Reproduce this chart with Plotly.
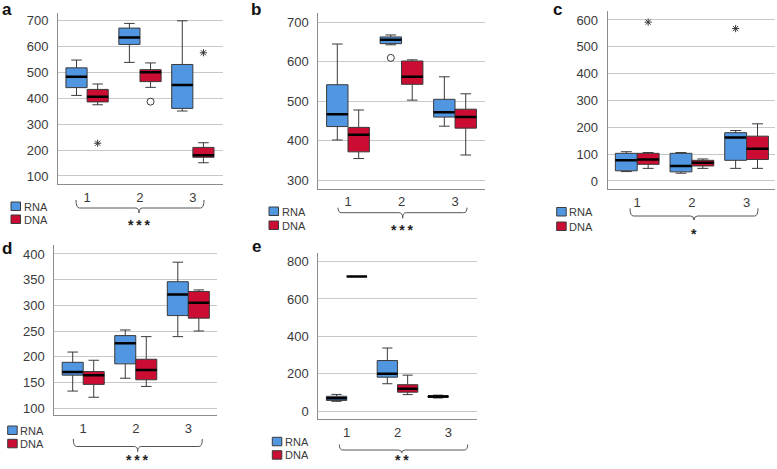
import plotly.graph_objects as go

W, H = 777, 469

CATEGORIES = ["1", "2", "3"]
SERIES = ["RNA", "DNA"]

# five-number summaries per group: [lower whisker, Q1, median, Q3, upper whisker]
A_RNA = [[410, 440, 482, 516, 546], [537, 606, 633, 669, 687], [350, 360, 450, 529, 697]]
A_DNA = [[374, 385, 405, 433, 454], [441, 463, 499, 509, 535], [151, 172, 180, 210, 228]]
A_OUTLIERS = [("DNA", 0, 226, "star"), ("DNA", 1, 386, "circle"), ("DNA", 2, 574, "star")]
A_TICKS = [100, 200, 300, 400, 500, 600, 700]
A_SIG = "***"

B_RNA = [[402, 436, 467, 542, 645], [643, 646, 656, 663, 668], [437, 460, 472, 505, 562]]
B_DNA = [[355, 372, 415, 434, 478], [503, 543, 562, 602, 605], [364, 432, 460, 480, 519]]
B_OUTLIERS = [("RNA", 1, 610, "circle")]
B_TICKS = [300, 400, 500, 600, 700]
B_SIG = "***"

C_RNA = [[35, 38, 77, 103, 109], [29, 34, 56, 103, 106], [47, 77, 162, 180, 188]]
C_DNA = [[47, 62, 80, 103, 106], [47, 56, 68, 77, 82], [47, 80, 120, 167, 213]]
C_OUTLIERS = [("DNA", 0, 592, "star"), ("RNA", 2, 568, "star")]
C_TICKS = [0, 100, 200, 300, 400, 500, 600]
C_SIG = "*"

D_RNA = [[133, 164, 170, 189, 209], [158, 186, 226, 241, 252], [239, 280, 321, 346, 384]]
D_DNA = [[121, 146, 164, 171, 193], [142, 155, 174, 195, 239], [250, 275, 305, 327, 330]]
D_OUTLIERS = []
D_TICKS = [100, 150, 200, 250, 300, 350, 400]
D_SIG = "***"

E_RNA = [[53, 58, 69, 80, 90], [147, 182, 200, 271, 338], [71, 74, 79, 83, 86]]
E_DNA = [[720, 720, 720, 720, 720], [89, 102, 120, 142, 193], None]
E_OUTLIERS = []
E_TICKS = [0, 200, 400, 600, 800]
E_SIG = "**"

COLORS = {"RNA": "#5196E0", "DNA": "#CB0C33"}
OFFSETS = {"RNA": -0.2, "DNA": 0.2}
BOX_W = 0.4
FONT = "Liberation Sans, Arial, sans-serif"
TXT = "#3a3a3a"
SIG_SIZE = 14

# layout (pixels)
PANELS = [
    dict(letter="a", rna=A_RNA, dna=A_DNA, out=A_OUTLIERS, ticks=A_TICKS, sig=A_SIG,
         dx=(58, 223), dy=(13, 184), yr=(69.2, 727), xr=(-0.55, 2.57),
         lt=(0, 9), leg=(11, 202, 215), brace=(76, 204, 139, 200, 208, 213), sigy=221),
    dict(letter="b", rna=B_RNA, dna=B_DNA, out=B_OUTLIERS, ticks=B_TICKS, sig=B_SIG,
         dx=(318.3, 485), dy=(13.3, 188.7), yr=(278.7, 722.8), xr=(-0.555, 2.56),
         lt=(249, 9), leg=(269, 207, 221), brace=(338, 467, 402.7, 207.7, 212.7, 218.3), sigy=225.7),
    dict(letter="c", rna=C_RNA, dna=C_DNA, out=C_OUTLIERS, ticks=C_TICKS, sig=C_SIG,
         dx=(607.7, 775), dy=(11, 189.3), yr=(-31, 633.5), xr=(-0.54, 2.52),
         lt=(551, 9), leg=(556.7, 207.5, 222), brace=(630, 758, 694, 208.3, 216, 220), sigy=230),
    dict(letter="d", rna=D_RNA, dna=D_DNA, out=D_OUTLIERS, ticks=D_TICKS, sig=D_SIG,
         dx=(54.3, 216.7), dy=(245, 415.3), yr=(85.8, 417.5), xr=(-0.55, 2.54),
         lt=(0, 248), leg=(7.7, 426, 439.3), brace=(73.3, 202.3, 137.7, 439, 446.5, 451.5), sigy=461.7),
    dict(letter="e", rna=E_RNA, dna=E_DNA, out=E_OUTLIERS, ticks=E_TICKS, sig=E_SIG,
         dx=(318.3, 476.7), dy=(253.3, 419.3), yr=(-43, 844), xr=(-0.56, 2.56),
         lt=(250, 246), leg=(272.3, 437.3, 450.7), brace=(339.3, 467.7, 401.7, 444.5, 450, 453), sigy=465),
]


def px(x):
    return x / W


def py(y):
    return 1 - y / H


fig = go.Figure()
shapes = []
annotations = []
layout = {}

for i, p in enumerate(PANELS, start=1):
    xa = "x" if i == 1 else f"x{i}"
    ya = "y" if i == 1 else f"y{i}"
    xkey = "xaxis" if i == 1 else f"xaxis{i}"
    ykey = "yaxis" if i == 1 else f"yaxis{i}"

    layout[xkey] = dict(
        domain=[px(p["dx"][0]), px(p["dx"][1])], anchor=ya, range=list(p["xr"]),
        tickmode="array", tickvals=list(range(len(CATEGORIES))), ticktext=CATEGORIES,
        showgrid=False, zeroline=False, showline=True, linecolor="#8c8c8c", linewidth=1,
        ticks="", ticklabelstandoff=1, tickfont=dict(family=FONT, size=13, color=TXT),
        fixedrange=True,
    )
    layout[ykey] = dict(
        domain=[py(p["dy"][1]), py(p["dy"][0])], anchor=xa, range=list(p["yr"]),
        tickmode="array", tickvals=p["ticks"], ticktext=[str(t) for t in p["ticks"]],
        showgrid=True, gridcolor="#c8c8c8", gridwidth=1, zeroline=False,
        showline=True, linecolor="#8c8c8c", linewidth=1,
        ticks="", ticklabelstandoff=6, tickfont=dict(family=FONT, size=13, color=TXT),
        fixedrange=True,
    )

    for s, stats in (("RNA", p["rna"]), ("DNA", p["dna"])):
        xs, lo, q1, med, q3, hi = [], [], [], [], [], []
        for g, st in enumerate(stats):
            if st is None:
                continue
            xs.append(g + OFFSETS[s])
            lo.append(st[0]); q1.append(st[1]); med.append(st[2]); q3.append(st[3]); hi.append(st[4])
        fig.add_trace(go.Box(
            x=xs, q1=q1, median=med, q3=q3, lowerfence=lo, upperfence=hi,
            width=BOX_W, fillcolor=COLORS[s], line=dict(color="#3a3a3a", width=1),
            whiskerwidth=0.5, boxpoints=False, name=s, showlegend=False,
            xaxis=xa, yaxis=ya, hoverinfo="skip",
        ))
        # thick black median line
        fig.add_trace(go.Box(
            x=xs, q1=med, median=med, q3=med, lowerfence=med, upperfence=med,
            width=BOX_W, fillcolor="rgba(0,0,0,0)", line=dict(color="#000000", width=2.5),
            whiskerwidth=0, boxpoints=False, showlegend=False,
            xaxis=xa, yaxis=ya, hoverinfo="skip",
        ))

    for kind, sym, size in (("star", "asterisk-open", 6), ("circle", "circle-open", 7)):
        pts = [o for o in p["out"] if o[3] == kind]
        if pts:
            fig.add_trace(go.Scatter(
                x=[o[1] + OFFSETS[o[0]] for o in pts], y=[o[2] for o in pts],
                mode="markers", marker=dict(symbol=sym, size=size, color="#3a3a3a",
                                            line=dict(color="#3a3a3a", width=1)),
                showlegend=False, xaxis=xa, yaxis=ya, hoverinfo="skip",
            ))

    # panel letter
    annotations.append(dict(
        text=f"<b>{p['letter']}</b>", x=px(p["lt"][0]), y=py(p["lt"][1]),
        xref="paper", yref="paper", xanchor="left", yanchor="middle", showarrow=False,
        font=dict(family=FONT, size=17, color="#111111"),
    ))

    # legend
    lx, ry, dyy = p["leg"]
    for s, y0 in (("RNA", ry), ("DNA", dyy)):
        shapes.append(dict(type="rect", xref="paper", yref="paper",
                           x0=px(lx), x1=px(lx + 9.5), y0=py(y0 + 8.5), y1=py(y0),
                           fillcolor=COLORS[s], line=dict(color="#3a3a3a", width=1)))
        annotations.append(dict(
            text=s, x=px(lx + 10.5), y=py(y0 + 4.5), xref="paper", yref="paper",
            xanchor="left", yanchor="middle", showarrow=False,
            font=dict(family=FONT, size=11, color=TXT),
        ))

    # brace
    x0, x1, xc, yt, ym, ytip = p["brace"]
    r = 3.5
    path = (f"M {px(x0)},{py(yt)} Q {px(x0)},{py(ym)} {px(x0 + r)},{py(ym)} "
            f"L {px(xc - r)},{py(ym)} Q {px(xc)},{py(ym)} {px(xc)},{py(ytip)} "
            f"Q {px(xc)},{py(ym)} {px(xc + r)},{py(ym)} "
            f"L {px(x1 - r)},{py(ym)} Q {px(x1)},{py(ym)} {px(x1)},{py(yt)}")
    shapes.append(dict(type="path", xref="paper", yref="paper", path=path,
                       line=dict(color="#555555", width=1)))
    # significance stars: asterisk glyph sits near the top of the text box
    top = min(p["sigy"] - 0.33 * SIG_SIZE - 1, H - 1.2 * SIG_SIZE - 2)
    annotations.append(dict(
        text="<b>" + "\u2009".join(p["sig"]) + "</b>", x=px(xc), y=py(top),
        xref="paper", yref="paper", xanchor="center", yanchor="top", showarrow=False,
        font=dict(family=FONT, size=SIG_SIZE, color="#222222"),
    ))

fig.update_layout(
    width=W, height=H, margin=dict(l=0, r=0, t=0, b=0),
    paper_bgcolor="white", plot_bgcolor="white",
    boxmode="overlay", showlegend=False,
    shapes=shapes, annotations=annotations,
    **layout,
)

fig.write_html("out.html", config={"displayModeBar": False},
               post_script="document.body.style.margin='0';document.body.style.overflow='hidden';")
